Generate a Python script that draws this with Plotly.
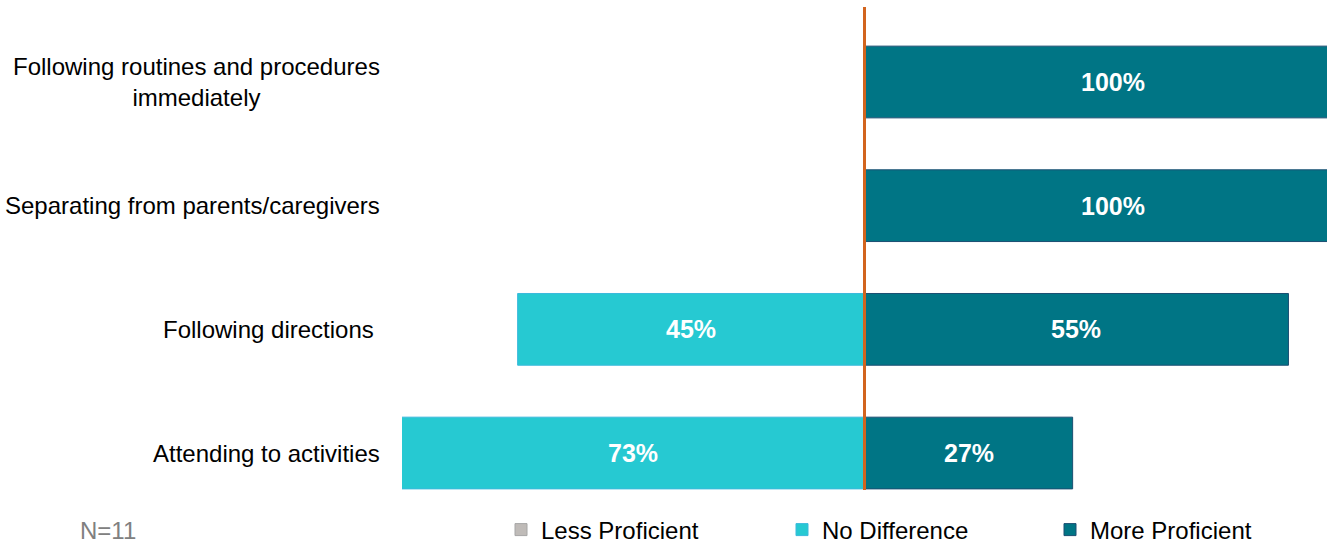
import plotly.graph_objects as go

categories = [
    "Following routines and procedures<br>immediately",
    "Separating from parents/caregivers",
    "Following directions\u00a0",
    "Attending to activities",
]
less_proficient = [0, 0, 0, 0]
no_difference = [0, 0, 45, 73]
more_proficient = [100, 100, 55, 27]
series_names = ["Less Proficient", "No Difference", "More Proficient"]
n_label = "N=11"

FONT = "Arial, Liberation Sans, sans-serif"
colors = {"Less Proficient": "#BFBBB8", "No Difference": "#26C9D2", "More Proficient": "#007585"}
outlines = {"Less Proficient": "#A6A6A6", "No Difference": "#3BB9DC", "More Proficient": "#1B4F72"}

# left-hand axis bound of the chart, and the right-hand bound of the source
# chart (its plot area ran past the cropped picture edge)
X_MIN, X_MAX_VIEW, X_MAX_SOURCE = -60, 60, 64.6

signed = {
    "Less Proficient": [-v for v in less_proficient],
    "No Difference": [-v for v in no_difference],
    "More Proficient": list(more_proficient),
}
legend_ids = {"Less Proficient": "legend", "No Difference": "legend2", "More Proficient": "legend3"}

fig = go.Figure()
for name in series_names:
    fig.add_trace(go.Bar(
        y=categories, x=signed[name], orientation="h", name=name,
        marker=dict(color=colors[name], line=dict(color=outlines[name], width=1)),
        width=0.58, legend=legend_ids[name], hoverinfo="x+y+name",
    ))

# value labels, centred on the visible part of each (stacked) bar
pos_base = [0.0] * len(categories)
neg_base = [0.0] * len(categories)
for name in series_names:
    for i, v in enumerate(signed[name]):
        if v == 0:
            continue
        if v > 0:
            a, b = pos_base[i], pos_base[i] + v
            pos_base[i] = b
        else:
            a, b = neg_base[i] + v, neg_base[i]
            neg_base[i] = a
        a = max(a, X_MIN)
        b = min(b, X_MAX_SOURCE)
        fig.add_annotation(x=(a + b) / 2, xref="x", y=categories[i], yref="y",
                           text=f"{abs(v)}%", showarrow=False,
                           font=dict(family=FONT, size=25, color="white", weight="bold"))

L, R, T, B = 402, 3, 7, 54
W, H = 1330, 544
pw = W - L - R
ph = H - T - B

def px2paper_x(px):
    return (px - L) / pw

def py2paper_y(py):
    return (H - B - py) / ph

leg_y = py2paper_y(530)
leg_text_x = [541, 822, 1090]
legend_common = dict(orientation="h", yanchor="middle", y=leg_y, xanchor="left",
                     font=dict(family=FONT, size=24, color="#000000"),
                     bgcolor="rgba(0,0,0,0)", borderwidth=0)
layout_legends = {}
for i, key in enumerate(["legend", "legend2", "legend3"]):
    layout_legends[key] = dict(legend_common, x=px2paper_x(leg_text_x[i] - 40))

for cat in categories:
    fig.add_annotation(x=0, xref="paper", xshift=-20, xanchor="right",
                       y=cat, yref="y", yanchor="middle", text=cat, showarrow=False,
                       align="center", font=dict(family=FONT, size=24, color="#000000"))

fig.add_annotation(x=px2paper_x(78), xref="paper", xanchor="left", y=leg_y, yref="paper",
                   yanchor="middle", text=n_label, showarrow=False,
                   font=dict(family=FONT, size=24, color="#808080"))

fig.add_shape(type="line", x0=0, x1=0, xref="x", y0=0, y1=1, yref="paper",
              line=dict(color="#D2641E", width=3), layer="above")

fig.update_layout(
    width=W, height=H,
    margin=dict(l=L, r=R, t=T, b=B, autoexpand=False),
    barmode="relative",
    plot_bgcolor="white", paper_bgcolor="white",
    showlegend=True,
    **layout_legends,
    xaxis=dict(range=[X_MIN, X_MAX_VIEW], showgrid=False, zeroline=False, showticklabels=False,
               showline=False, fixedrange=True),
    yaxis=dict(categoryorder="array", categoryarray=categories, range=[3.299, -0.6065],
               showgrid=False, zeroline=False, showticklabels=False, showline=False),
    font=dict(family=FONT),
)

fig.write_html("out.html", config={"displayModeBar": False},
               post_script="document.body.style.margin='0';document.body.style.overflow='hidden';")
